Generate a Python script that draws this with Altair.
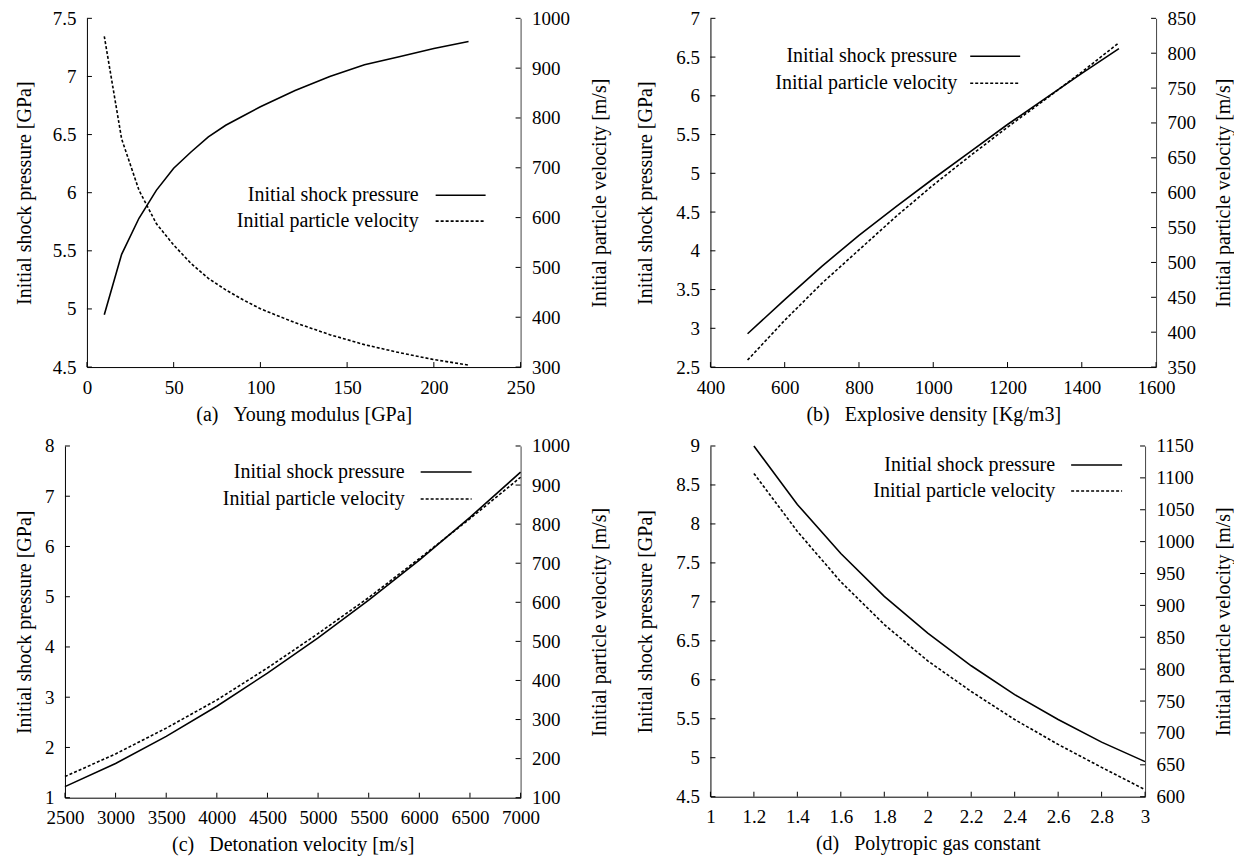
import altair as alt
import pandas as pd

FONT = "Liberation Serif"
FS_LAB = 19
FS_TITLE = 20
FS_LEG = 20

LEGEND_LABELS = ["Initial shock pressure", "Initial particle velocity"]
Y_LEFT_TITLE = "Initial shock pressure [GPa]"
Y_RIGHT_TITLE = "Initial particle velocity [m/s]"

# ---------- Panel (a) ----------
a_x = [10, 20, 30, 40, 50, 60, 70, 80, 90, 100, 120, 140, 160, 180, 200, 220]
a_pressure = [4.95, 5.47, 5.78, 6.02, 6.21, 6.35, 6.48, 6.58, 6.66, 6.74, 6.88, 7.00, 7.10, 7.17, 7.24, 7.30]
a_velocity = [964, 758, 655, 588, 545, 508, 478, 455, 435, 417, 389, 365, 345, 329, 315, 304]
a_xticks = [0, 50, 100, 150, 200, 250]
a_pticks = [4.5, 5, 5.5, 6, 6.5, 7, 7.5]
a_uticks = [300, 400, 500, 600, 700, 800, 900, 1000]
a_title = "(a)\u00a0\u00a0\u00a0Young modulus [GPa]"

# ---------- Panel (b) ----------
b_x = [500, 600, 700, 800, 900, 1000, 1100, 1200, 1300, 1400, 1500]
b_pressure = [2.93, 3.37, 3.80, 4.20, 4.57, 4.93, 5.28, 5.63, 5.96, 6.29, 6.61]
b_velocity = [360, 417, 470, 518, 566, 611, 653, 694, 733, 773, 815]
b_xticks = [400, 600, 800, 1000, 1200, 1400, 1600]
b_pticks = [2.5, 3, 3.5, 4, 4.5, 5, 5.5, 6, 6.5, 7]
b_uticks = [350, 400, 450, 500, 550, 600, 650, 700, 750, 800, 850]
b_title = "(b)\u00a0\u00a0\u00a0Explosive density [Kg/m3]"

# ---------- Panel (c) ----------
c_x = [2500, 3000, 3500, 4000, 4500, 5000, 5500, 6000, 6500, 7000]
c_pressure = [1.22, 1.68, 2.22, 2.82, 3.48, 4.18, 4.93, 5.73, 6.58, 7.48]
c_velocity = [154, 212, 278, 350, 432, 520, 612, 712, 814, 920]
c_xticks = [2500, 3000, 3500, 4000, 4500, 5000, 5500, 6000, 6500, 7000]
c_pticks = [1, 2, 3, 4, 5, 6, 7, 8]
c_uticks = [100, 200, 300, 400, 500, 600, 700, 800, 900, 1000]
c_title = "(c)\u00a0\u00a0\u00a0Detonation velocity [m/s]"

# ---------- Panel (d) ----------
d_x = [1.2, 1.4, 1.6, 1.8, 2.0, 2.2, 2.4, 2.6, 2.8, 3.0]
d_pressure = [9.0, 8.25, 7.62, 7.07, 6.60, 6.18, 5.81, 5.49, 5.20, 4.95]
d_velocity = [1107, 1016, 937, 870, 813, 765, 721, 682, 646, 611]
d_xticks = [1, 1.2, 1.4, 1.6, 1.8, 2, 2.2, 2.4, 2.6, 2.8, 3]
d_pticks = [4.5, 5, 5.5, 6, 6.5, 7, 7.5, 8, 8.5, 9]
d_uticks = [600, 650, 700, 750, 800, 850, 900, 950, 1000, 1050, 1100, 1150]
d_title = "(d)\u00a0\u00a0\u00a0Polytropic gas constant"

TICK = 5
LINE_W = 1.6


def panel(x, p, u, xticks, pticks, uticks, xtitle, W, H, leg, ltp, rtp, xfmt, off=0):
    df = pd.DataFrame({"x": x, "p": p, "u": u})
    xs = alt.Scale(domain=[xticks[0], xticks[-1]], nice=False, zero=False, range=[off, off + W])
    ps = alt.Scale(domain=[pticks[0], pticks[-1]], nice=False, zero=False)
    us = alt.Scale(domain=[uticks[0], uticks[-1]], nice=False, zero=False)

    xaxis = alt.Axis(values=xticks, format=xfmt, title=xtitle, ticks=False,
                     labelPadding=11, titlePadding=7, domainColor="black",
                     labelFlush=False, labelOverlap=False)
    laxis = alt.Axis(values=pticks, format="~g", title=Y_LEFT_TITLE, orient="left",
                     ticks=False, labelPadding=11, titlePadding=ltp, domainColor="black",
                     labelFlush=False, labelOverlap=False, offset=-off)
    raxis = alt.Axis(values=uticks, format="d", title=Y_RIGHT_TITLE, orient="right",
                     ticks=False, labelPadding=11, titlePadding=rtp, titleAngle=270,
                     titleBaseline="top",
                     domainColor="#444444", labelFlush=False, labelOverlap=False)

    p_line = alt.Chart(df).mark_line(color="black", strokeWidth=LINE_W).encode(
        x=alt.X("x:Q", scale=xs, axis=xaxis),
        y=alt.Y("p:Q", scale=ps, axis=laxis),
    )
    p_ticks = alt.Chart(pd.DataFrame({"v": pticks})).mark_rule(color="black", strokeWidth=1).encode(
        y=alt.Y("v:Q", scale=ps, axis=laxis),
        x=alt.value(off), x2=alt.value(off + TICK),
    )
    x_ticks = alt.Chart(pd.DataFrame({"v": xticks})).mark_rule(color="black", strokeWidth=1).encode(
        x=alt.X("v:Q", scale=xs, axis=xaxis),
        y=alt.value(H), y2=alt.value(H - TICK),
    )
    tx, ty1, ty2, lx1, lx2 = leg
    leg_df = pd.DataFrame({"label": LEGEND_LABELS})
    t1 = alt.Chart(leg_df.iloc[[0]]).mark_text(align="right", baseline="middle", font=FONT,
                                                 fontSize=FS_LEG, color="black").encode(
        x=alt.value(off + tx), y=alt.value(ty1), text="label:N")
    t2 = alt.Chart(leg_df.iloc[[1]]).mark_text(align="right", baseline="middle", font=FONT,
                                                 fontSize=FS_LEG, color="black").encode(
        x=alt.value(off + tx), y=alt.value(ty2), text="label:N")
    r1 = alt.Chart(leg_df.iloc[[0]]).mark_rule(color="black", strokeWidth=LINE_W).encode(
        x=alt.value(off + lx1), x2=alt.value(off + lx2), y=alt.value(ty1))
    r2 = alt.Chart(leg_df.iloc[[1]]).mark_rule(color="black", strokeWidth=LINE_W,
                                                strokeDash=[3, 2]).encode(
        x=alt.value(off + lx1), x2=alt.value(off + lx2), y=alt.value(ty2))

    u_line = alt.Chart(df).mark_line(color="black", strokeWidth=LINE_W, strokeDash=[3, 2]).encode(
        x=alt.X("x:Q", scale=xs, axis=xaxis),
        y=alt.Y("u:Q", scale=us, axis=raxis),
    )
    u_ticks = alt.Chart(pd.DataFrame({"v": uticks})).mark_rule(color="black", strokeWidth=1).encode(
        y=alt.Y("v:Q", scale=us, axis=raxis),
        x=alt.value(off + W), x2=alt.value(off + W - TICK),
    )

    left = alt.layer(p_line, p_ticks, x_ticks, t1, t2, r1, r2)
    right = alt.layer(u_line, u_ticks)
    return alt.layer(left, right).resolve_scale(y="independent").properties(width=off + W, height=H)


pa = panel(a_x, a_pressure, a_velocity, a_xticks, a_pticks, a_uticks, a_title, 434, 349,
           (332, 177, 203, 349, 399), 18, 20, "d", off=22)
pb = panel(b_x, b_pressure, b_velocity, b_xticks, b_pticks, b_uticks, b_title, 446, 349,
           (247, 38, 65, 260, 310), 20.5, 17.5, "d")
pc = panel(c_x, c_pressure, c_velocity, c_xticks, c_pticks, c_uticks, c_title, 456, 352,
           (340, 26, 53, 356, 407), 10, 20, "d")
pd_ = panel(d_x, d_pressure, d_velocity, d_xticks, d_pticks, d_uticks, d_title, 435, 351,
            (345, 19, 45, 361, 412), 20, 19.5, "~g")

chart = alt.vconcat(
    alt.hconcat(pa, pb, spacing=24),
    alt.hconcat(pc, pd_, spacing=24),
    spacing=11,
).properties(
    padding={"left": 5, "top": 0, "right": 0, "bottom": 0}
).configure(
    font=FONT,
).configure_view(
    stroke="transparent"
).configure_axis(
    labelFont=FONT, titleFont=FONT, labelFontSize=FS_LAB, titleFontSize=FS_TITLE,
    labelColor="black", titleColor="black", titleFontWeight="normal",
    grid=False, domainWidth=1,
)

chart.save("out.html", embed_options={"renderer": "svg", "actions": False})
